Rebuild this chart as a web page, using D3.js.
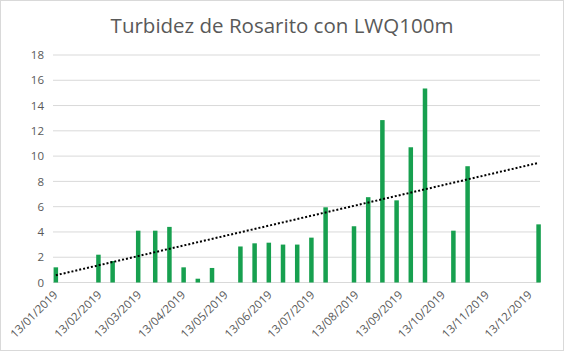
<!DOCTYPE html>
<html lang="es">
<head>
    <meta charset="UTF-8">
    <title>Turbidez de Rosarito con LWQ100m</title>
    <script src="https://d3js.org/d3.v7.min.js"></script>
    <style>
        body { margin: 0; background: #fff; }
        svg { display: block; font-family: "Open Sans", "Liberation Sans", sans-serif; }
        .tick-label { font-size: 11.5px; fill: #595959; }
    </style>
</head>
<body>
<svg id="chart" width="565" height="353"></svg>
<script>
    // fechas de las imágenes (dd/mm/aaaa)
    const fechas = [
        "13/01/2019", "12/02/2019", "22/02/2019", "12/03/2019", "24/03/2019",
        "03/04/2019", "13/04/2019", "23/04/2019", "03/05/2019", "23/05/2019",
        "02/06/2019", "12/06/2019", "22/06/2019", "02/07/2019", "12/07/2019",
        "22/07/2019", "11/08/2019", "21/08/2019", "31/08/2019", "10/09/2019",
        "20/09/2019", "30/09/2019", "20/10/2019", "30/10/2019", "19/12/2019"
    ];
    // turbidez
    const turbidez = [
        1.2, 2.2, 1.7, 4.1, 4.1,
        4.4, 1.2, 0.3, 1.15, 2.85,
        3.1, 3.15, 3.0, 3.0, 3.55,
        5.95, 4.45, 6.75, 12.85, 6.5,
        10.7, 15.35, 4.1, 9.2, 4.6
    ];
    // etiquetas del eje x
    const etiquetasX = [
        "13/01/2019", "13/02/2019", "13/03/2019", "13/04/2019", "13/05/2019", "13/06/2019",
        "13/07/2019", "13/08/2019", "13/09/2019", "13/10/2019", "13/11/2019", "13/12/2019"
    ];
    const ticksY = [0, 2, 4, 6, 8, 10, 12, 14, 16, 18];

    const parse = d3.timeParse("%d/%m/%Y");
    const datos = fechas.map((f, i) => ({ fecha: parse(f), valor: turbidez[i] }));

    const svg = d3.select("#chart");
    const izq = 53, der = 540, arriba = 55, abajo = 282.5;

    // marco
    svg.append("rect")
        .attr("x", 0.5).attr("y", 0.5)
        .attr("width", 563).attr("height", 350)
        .attr("fill", "#fff").attr("stroke", "#d9d9d9");

    // título
    svg.append("text")
        .attr("x", 282).attr("y", 32.5)
        .attr("text-anchor", "middle")
        .attr("font-size", 20.5)
        .attr("fill", "#595959")
        .text("Turbidez de Rosarito con LWQ100m");

    const x = d3.scaleTime()
        .domain([new Date(2019, 0, 11), new Date(2019, 11, 20)])
        .range([izq, der]);
    const y = d3.scaleLinear().domain([0, 18]).range([abajo, arriba]);

    // cuadrícula
    svg.append("g").selectAll("line").data(ticksY).join("line")
        .attr("x1", izq).attr("x2", der)
        .attr("y1", d => y(d)).attr("y2", d => y(d))
        .attr("stroke", "#d9d9d9").attr("stroke-width", 1);

    // eje y
    const ejeY = svg.append("g")
        .attr("transform", `translate(${izq},0)`)
        .call(d3.axisLeft(y).tickValues(ticksY).tickSize(0).tickPadding(9));
    ejeY.select(".domain").remove();
    ejeY.attr("font-family", null).attr("font-size", null);
    ejeY.selectAll("text").attr("class", "tick-label");

    // eje x
    const ejeX = svg.append("g")
        .attr("transform", `translate(0,${abajo})`)
        .call(d3.axisBottom(x).tickValues(etiquetasX.map(parse)).tickSize(0).tickFormat(d3.timeFormat("%d/%m/%Y")));
    ejeX.select(".domain").remove();
    ejeX.attr("font-family", null).attr("font-size", null);
    ejeX.selectAll("text")
        .attr("class", "tick-label")
        .attr("text-anchor", "end")
        .attr("dy", null).attr("y", 0)
        .attr("transform", "translate(2,13) rotate(-45)");

    // barras
    const ancho = 4.5;
    svg.append("g").selectAll("rect").data(datos).join("rect")
        .attr("x", d => x(d.fecha) - ancho / 2)
        .attr("y", d => y(d.valor))
        .attr("width", ancho)
        .attr("height", d => abajo - y(d.valor))
        .attr("fill", "#17a04f");

    // línea de tendencia (mínimos cuadrados)
    const xs = datos.map(d => +d.fecha), ys = datos.map(d => d.valor);
    const mx = d3.mean(xs), my = d3.mean(ys);
    const pendiente = d3.sum(xs, (v, i) => (v - mx) * (ys[i] - my)) / d3.sum(xs, v => (v - mx) * (v - mx));
    const corte = my - pendiente * mx;
    const extremos = d3.extent(datos, d => d.fecha);
    svg.append("line")
        .attr("x1", x(extremos[0])).attr("y1", y(corte + pendiente * +extremos[0]))
        .attr("x2", x(extremos[1])).attr("y2", y(corte + pendiente * +extremos[1]))
        .attr("stroke", "#000").attr("stroke-width", 2)
        .attr("stroke-dasharray", "2,2");
</script>
</body>
</html>
